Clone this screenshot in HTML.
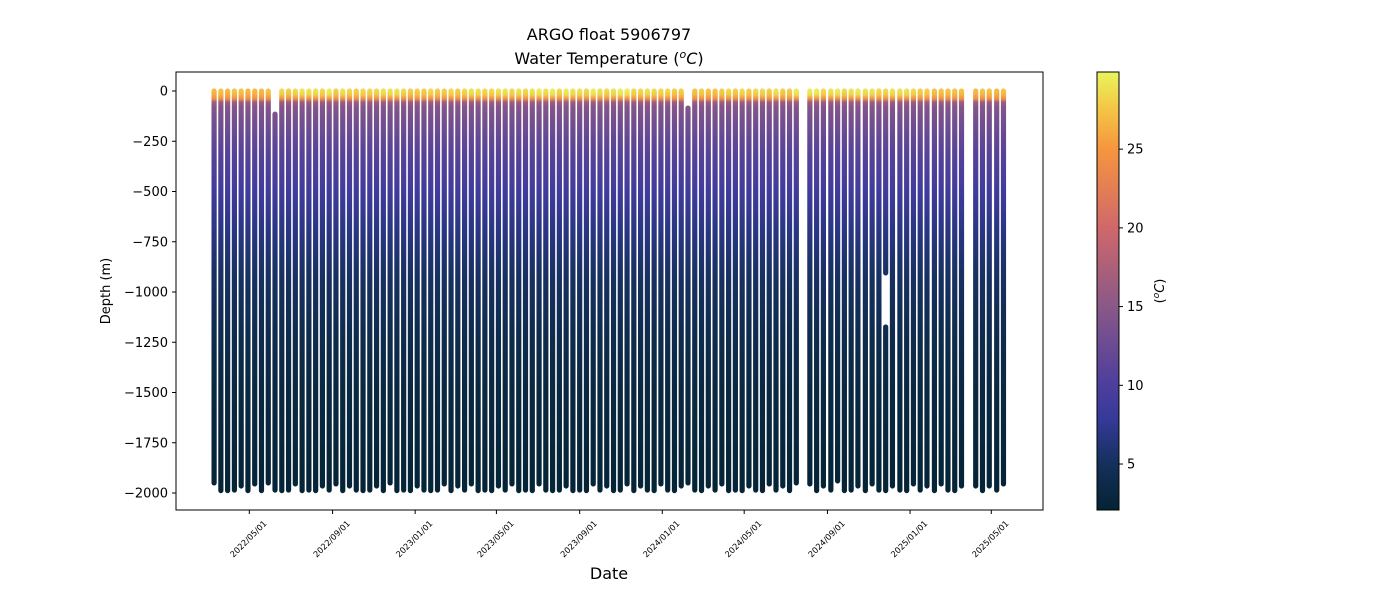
<!DOCTYPE html>
<html><head><meta charset="utf-8"><style>
html,body{margin:0;padding:0;background:#fff;}
svg{display:block;font-family:"DejaVu Sans","Liberation Sans",sans-serif;}
</style></head><body>
<svg id="chart" width="1400" height="600" viewBox="0 0 1400 600">
<defs id="defs"></defs>
<text x="609" y="40" font-size="16" text-anchor="middle">ARGO float 5906797</text>
<text x="609" y="64" font-size="16" text-anchor="middle">Water Temperature (<tspan font-style="italic" font-size="11" dy="-6">o</tspan><tspan font-style="italic" dy="6">C</tspan>)</text>
<g id="bars"></g>
<rect x="176" y="72" width="867" height="438" fill="none" stroke="#000" stroke-width="1"/>
<g id="yaxis"></g>
<g id="xaxis"></g>
<text x="110" y="291" font-size="13" text-anchor="middle" transform="rotate(-90 110 291)">Depth (m)</text>
<text x="609" y="579" font-size="16" text-anchor="middle">Date</text>
<g id="cbar"></g>
<text x="1164" y="291" font-size="13" text-anchor="middle" transform="rotate(-90 1164 291)">(<tspan font-style="italic" font-size="9" dy="-5">o</tspan><tspan font-style="italic" dy="5">C</tspan>)</text>
</svg>
<script>
// ---- data ----
// profile dates as days since 2022-05-01
const profileDays = [-52,-42,-32,-22,-12,-2,8,18,28,38,48,58,68,78,88,98,108,118,128,138,148,158,168,178,188,198,208,218,228,238,248,258,268,278,288,298,308,318,328,338,348,358,368,378,388,398,408,418,428,438,448,458,468,478,488,498,508,518,528,538,548,558,568,578,588,598,608,618,628,638,648,658,668,678,688,698,708,718,728,738,748,758,768,778,788,798,808,
828,838,848,859,869,879,889,899,910,920,930,940,950,961,971,981,991,1001,1012,1022,1032,1042,1052,
1073,1083,1093,1104,1114];
const topDepth = [0,0,0,0,0,0,0,0,0,-115,0,0,0,0,0,0,0,0,0,0,0,0,0,0,0,0,0,0,0,0,0,0,0,0,0,0,0,0,0,0,0,0,0,0,0,0,0,0,0,0,0,0,0,0,0,0,0,0,0,0,0,0,0,0,0,0,0,0,0,0,-85,0,0,0,0,0,0,0,0,0,0,0,0,0,0,0,0,
0,0,0,0,0,0,0,0,0,0,0,0,0,0,0,0,0,0,0,0,0,0,0,0,0,0,0,0];
const bottomDepth = [-1950,-1988,-1988,-1985,-1965,-1988,-1955,-1988,-1950,-1985,-1988,-1985,-1955,-1988,-1985,-1988,-1965,-1985,-1955,-1988,-1965,-1985,-1988,-1985,-1965,-1988,-1950,-1988,-1985,-1988,-1965,-1985,-1988,-1985,-1955,-1988,-1965,-1985,-1955,-1988,-1985,-1988,-1965,-1985,-1955,-1988,-1985,-1988,-1955,-1985,-1988,-1985,-1965,-1988,-1985,-1988,-1955,-1985,-1965,-1988,-1985,-1955,-1988,-1965,-1985,-1988,-1955,-1985,-1988,-1965,-1950,-1985,-1988,-1965,-1985,-1955,-1988,-1985,-1988,-1965,-1985,-1988,-1955,-1985,-1965,-1988,-1950,
-1955,-1988,-1965,-1985,-1940,-1988,-1985,-1965,-1988,-1955,-1985,-1988,-1965,-1985,-1988,-1955,-1985,-1965,-1988,-1955,-1985,-1988,-1965,
-1965,-1988,-1965,-1985,-1955];
const surfaceTemp = [27,27.5,27,27.5,27.5,27,27,27,27.5,26,28.5,28,28.5,29,29,29,28.5,29.5,28,29,28.5,28,28.5,28.5,28.5,29,29,29,28.5,28,28,28,28.5,28,28,28.5,28,28.5,29,29,28.5,28.5,29,29,28.5,29,28.5,29,29.5,29,29.5,28.5,29.5,29,29,28.5,29.5,29,28.5,29,29.5,29.5,28.5,28.5,29,28.5,28.5,28.5,28,28,25,27.5,28,27.5,27.5,28,28.5,28,28.5,28,28.5,28.5,28,29,28,28,29.5,
29.5,29.5,28.5,29,29.5,28.5,29,29.5,29,29,28.5,28.5,29,29,29,28.5,28,28,27.5,27.5,27.5,27.5,27.5,
27,27.5,27.5,27,27.5];
const gapProfile = 98; const gapTop = -905; const gapBottom = -1174;
const profDepths = [0, 20, 40, 55, 80, 150, 300, 500, 700, 900, 1200, 1500, 2000];
const profTemps  = [null, null, 24, 16.5, 14.5, 13.2, 11, 8.8, 6.8, 5.4, 4.0, 3.1, 2.3];
const yTicks = [0,-250,-500,-750,-1000,-1250,-1500,-1750,-2000];
const xTickDays = [0,123,245,365,488,610,731,854,976,1096];
const xTickLabels = ["2022/05/01","2022/09/01","2023/01/01","2023/05/01","2023/09/01","2024/01/01","2024/05/01","2024/09/01","2025/01/01","2025/05/01"];
const cbTicks = [5,10,15,20,25];
const cMin = 2.08, cMax = 29.9;
// ---- scales ----
const xs = d => 249.3 + d * 0.677;
const ys = v => 91 - v * (402 / 2000);
const cs = t => 510 - (t - cMin) / (cMax - cMin) * 438;
const stops = [[0,[4,35,51]],[0.105,[20,48,92]],[0.21,[54,58,154]],[0.285,[77,62,156]],[0.465,[138,88,136]],[0.645,[208,104,106]],[0.823,[246,149,63]],[0.92,[243,200,70]],[1,[232,245,92]]];
function color(t){
  let u = Math.max(0, Math.min(1, (t - cMin) / (cMax - cMin)));
  for (let i = 1; i < stops.length; i++) {
    if (u <= stops[i][0]) {
      const a = stops[i-1], b = stops[i], f = (u - a[0]) / (b[0] - a[0]);
      const c = a[1].map((v, k) => Math.round(v + (b[1][k] - v) * f));
      return `rgb(${c[0]},${c[1]},${c[2]})`;
    }
  }
  return 'rgb(232,245,92)';
}
const NS = 'http://www.w3.org/2000/svg';
const defs = document.getElementById('defs');
const bars = document.getElementById('bars');
function mk(tag, attrs, parent){ const e = document.createElementNS(NS, tag); for (const k in attrs) e.setAttribute(k, attrs[k]); parent.appendChild(e); return e; }
// ---- profiles ----
profileDays.forEach((d, i) => {
  const gid = 'g' + i;
  const g = mk('linearGradient', {id: gid, gradientUnits: 'userSpaceOnUse', x1: 0, x2: 0, y1: ys(0), y2: ys(-2000)}, defs);
  const ts = surfaceTemp[i];
  profDepths.forEach((dep, k) => {
    let t = profTemps[k];
    if (k === 0) t = ts; if (k === 1) t = ts - 1.0;
    mk('stop', {offset: dep / 2000, 'stop-color': color(t)}, g);
  });
  const x = xs(d);
  const segs = (i === gapProfile) ? [[topDepth[i], gapTop], [gapBottom, bottomDepth[i]]] : [[topDepth[i], bottomDepth[i]]];
  segs.forEach(s => {
    const ln = mk('line', {x1: x, x2: x, y1: ys(s[0]), y2: ys(s[1]), stroke: `url(#${gid})`, 'stroke-width': 5.2, 'stroke-linecap': 'round'}, bars);
    
    
  });
});
// ---- axes ----
const ya = document.getElementById('yaxis');
yTicks.forEach(v => {
  const y = ys(v);
  const tk = mk('line', {x1: 172, x2: 176, y1: y, y2: y, stroke: '#000'}, ya);
  
  
  const t = mk('text', {x: 168, y: y + 4.5, 'font-size': 13, 'text-anchor': 'end'}, ya);
  t.textContent = v === 0 ? '0' : '\u2212' + Math.abs(v);
  
  
});
const xa = document.getElementById('xaxis');
xTickDays.forEach((d, i) => {
  const x = xs(d);
  const tk = mk('line', {x1: x, x2: x, y1: 510, y2: 514, stroke: '#000'}, xa);
  
  
  const tx = x + 18, ty = 524;
  const t = mk('text', {x: tx, y: ty, 'font-size': 8.3, 'text-anchor': 'end', transform: `rotate(-45 ${tx} ${ty})`}, xa);
  t.textContent = xTickLabels[i];
  
  
});
// ---- colorbar ----
const cb = document.getElementById('cbar');
const cg = mk('linearGradient', {id: 'cbg', x1: 0, x2: 0, y1: 1, y2: 0}, defs);
stops.forEach(s => mk('stop', {offset: s[0], 'stop-color': `rgb(${s[1].join(',')})`}, cg));
const cr = mk('rect', {x: 1097, y: 72, width: 22, height: 438, fill: 'url(#cbg)', stroke: '#000', 'stroke-width': 1}, cb);


cbTicks.forEach(v => {
  const y = cs(v);
  const tk = mk('line', {x1: 1119, x2: 1123, y1: y, y2: y, stroke: '#000'}, cb);
  
  
  const t = mk('text', {x: 1127, y: y + 4.5, 'font-size': 13}, cb);
  t.textContent = v;
  
  
});
</script>
</body></html>
